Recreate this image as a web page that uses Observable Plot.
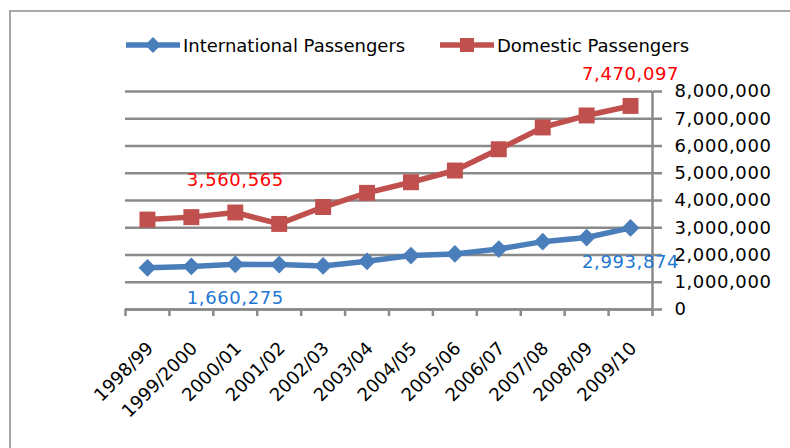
<!DOCTYPE html>
<html>
<head>
<meta charset="utf-8">
<script src="https://cdn.jsdelivr.net/npm/d3@7"></script>
<script src="https://cdn.jsdelivr.net/npm/@observablehq/plot@0.6"></script>
<style>
  body { margin: 0; background: #fff; }
  #wrap { position: relative; width: 790px; height: 448px; overflow: hidden; font-family: "DejaVu Sans", sans-serif; background: #fff; }
  #frame { position: absolute; left: 9px; top: 10px; width: 800px; height: 460px; border-left: 2.5px solid #a8a8a8; border-top: 2.5px solid #a8a8a8; }
  #chart { position: absolute; left: 0; top: 0; }
  .num text { letter-spacing: 0.6px; }
  .leg { position: absolute; top: 34px; display: flex; align-items: center; font-size: 18px; color: #000; white-space: nowrap; }
  .leg svg { display: block; margin-right: 3px; }
</style>
</head>
<body>
<div id="wrap">
  <div id="frame"></div>
  <div id="chart"></div>
  <div id="legend"></div>
</div>
<script>
// ---- data ----
const categories = ["1998/99", "1999/2000", "2000/01", "2001/02", "2002/03", "2003/04", "2004/05", "2005/06", "2006/07", "2007/08", "2008/09", "2009/10"];
const international = [1530000, 1580000, 1660275, 1650000, 1600000, 1770000, 1980000, 2040000, 2220000, 2490000, 2640000, 2993874];
const domestic = [3300000, 3390000, 3560565, 3140000, 3760000, 4280000, 4670000, 5100000, 5880000, 6680000, 7120000, 7470097];
const yTicks = [0, 1000000, 2000000, 3000000, 4000000, 5000000, 6000000, 7000000, 8000000];
const labelledCategories = ["2000/01", "2009/10"];
const seriesNames = ["International Passengers", "Domestic Passengers"];

const blue = "#4a7ebb";
const red = "#c0504d";
const gridColor = "#8a8a8a";
const fmt = d3.format(",");

const rows = categories.map((cat, i) => ({i, cat, intl: international[i], dom: domestic[i]}));
const labelled = rows.filter(d => labelledCategories.includes(d.cat));
const xDomain = [-0.5, categories.length - 0.5];
const boundaries = d3.range(categories.length + 1).map(i => i - 0.5);

const chart = Plot.plot({
  width: 790,
  height: 448,
  marginLeft: 125,
  marginRight: 138,
  marginTop: 91,
  marginBottom: 139,
  x: {type: "linear", domain: xDomain, axis: null, label: null},
  y: {domain: [0, 8000000], axis: null, label: null},
  style: {fontFamily: "DejaVu Sans, sans-serif", fontSize: "18px", background: "transparent", color: "#000", overflow: "visible"},
  marks: [
    Plot.gridY(yTicks, {stroke: gridColor, strokeOpacity: 1, strokeWidth: 2.5}),
    Plot.ruleY([0], {stroke: gridColor, strokeWidth: 2.5}),
    Plot.ruleX([xDomain[1]], {stroke: gridColor, strokeWidth: 2.5}),
    Plot.axisX(boundaries, {tickSize: 7, tickFormat: () => "", label: null, stroke: gridColor, strokeWidth: 2.5}),
    Plot.axisY(yTicks, {anchor: "right", label: null, tickSize: 9, tickPadding: 13, tickFormat: fmt, stroke: gridColor, strokeWidth: 2.5, fill: "#000", fontSize: 18, className: "num"}),
    Plot.text(rows, {x: "i", frameAnchor: "bottom", text: "cat", rotate: -45, textAnchor: "end", lineAnchor: "bottom", dx: 7, dy: 40, fill: "#000", fontSize: 18}),
    Plot.line(rows, {x: "i", y: "dom", stroke: red, strokeWidth: 5.5}),
    Plot.dot(rows, {x: "i", y: "dom", symbol: "square", r: 9, fill: red}),
    Plot.line(rows, {x: "i", y: "intl", stroke: blue, strokeWidth: 5.5}),
    Plot.dot(rows, {x: "i", y: "intl", symbol: "diamond2", r: 8, fill: blue}),
    Plot.text(labelled, {x: "i", y: "dom", text: d => fmt(d.dom), dy: -32, fill: "#ff0000", fontSize: 18, className: "num"}),
    Plot.text(labelled, {x: "i", y: "intl", text: d => fmt(d.intl), dy: 34, fill: "#2478d4", fontSize: 18, className: "num"})
  ]
});
document.getElementById("chart").appendChild(chart);

// ---- legend ----
const legend = document.getElementById("legend");
const legendItems = [
  {name: seriesNames[0], color: blue, shape: "diamond", left: 126},
  {name: seriesNames[1], color: red, shape: "square", left: 440}
];
for (const it of legendItems) {
  const div = document.createElement("div");
  div.className = "leg";
  div.style.left = it.left + "px";
  const marker = it.shape === "diamond"
    ? `<path d="M27,3 L35,11 L27,19 L19,11 Z" fill="${it.color}"/>`
    : `<rect x="20" y="4" width="14" height="14" fill="${it.color}"/>`;
  div.innerHTML = `<svg width="54" height="22"><line x1="0" x2="54" y1="11" y2="11" stroke="${it.color}" stroke-width="5.5" stroke-linecap="round"/>${marker}</svg><span>${it.name}</span>`;
  legend.appendChild(div);
}
</script>
</body>
</html>
